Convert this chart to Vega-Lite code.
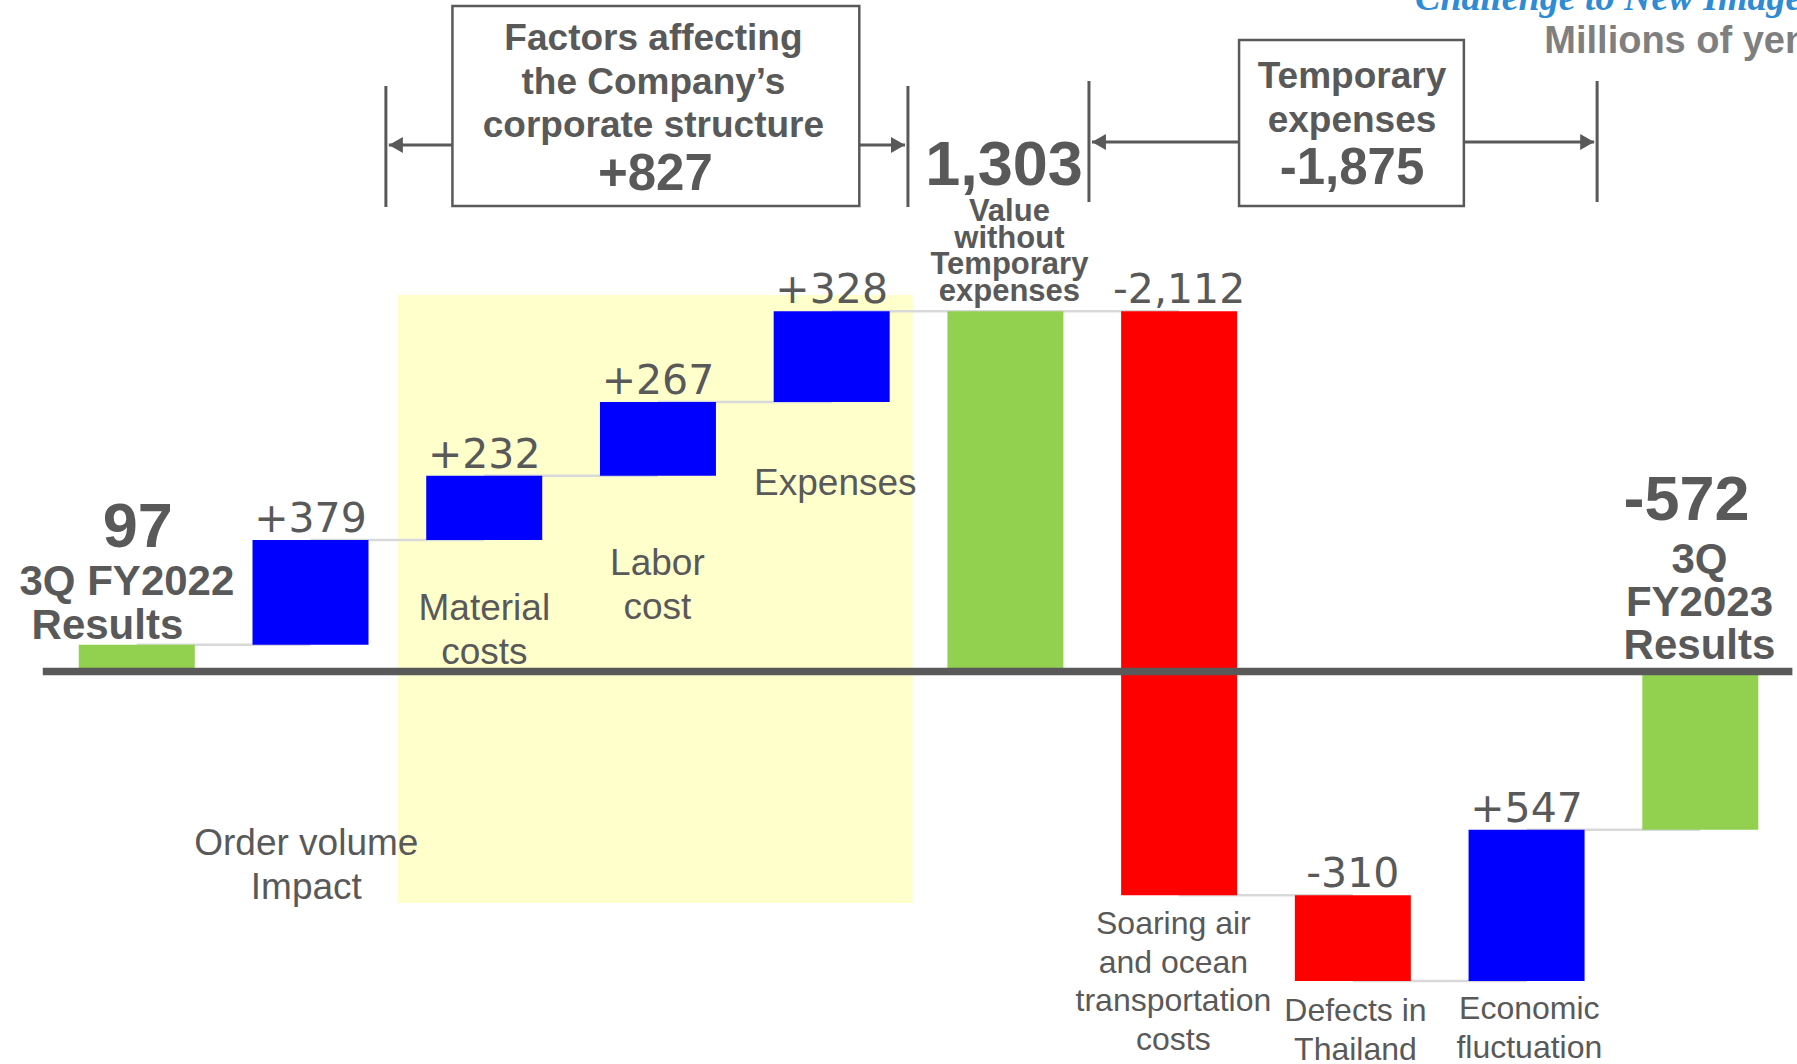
{
  "$schema": "https://vega.github.io/schema/vega-lite/v6.json",
  "width": 1797,
  "height": 1064,
  "autosize": "none",
  "padding": 0,
  "background": "white",
  "config": {"view": {"stroke": null}},
  "datasets": {
    "bars": [
      {"i": 0, "name": "3Q FY2022 Results", "start": 0, "end": 97, "kind": "total", "label": ""},
      {"i": 1, "name": "Order volume Impact", "start": 97, "end": 476, "kind": "up", "label": "+379"},
      {"i": 2, "name": "Material costs", "start": 476, "end": 708, "kind": "up", "label": "+232"},
      {"i": 3, "name": "Labor cost", "start": 708, "end": 975, "kind": "up", "label": "+267"},
      {"i": 4, "name": "Expenses", "start": 975, "end": 1303, "kind": "up", "label": "+328"},
      {"i": 5, "name": "Value without Temporary expenses", "start": 0, "end": 1303, "kind": "total", "label": ""},
      {"i": 6, "name": "Soaring air and ocean transportation costs", "start": 1303, "end": -809, "kind": "down", "label": "-2,112"},
      {"i": 7, "name": "Defects in Thailand", "start": -809, "end": -1119, "kind": "down", "label": "-310"},
      {"i": 8, "name": "Economic fluctuation", "start": -1119, "end": -572, "kind": "up", "label": "+547"},
      {"i": 9, "name": "3Q FY2023 Results", "start": 0, "end": -572, "kind": "total", "label": ""}
    ],
    "connectors": [
      {"from": 0, "to": 1, "level": 97},
      {"from": 1, "to": 2, "level": 476},
      {"from": 2, "to": 3, "level": 708},
      {"from": 3, "to": 4, "level": 975},
      {"from": 4, "to": 5, "level": 1303},
      {"from": 5, "to": 6, "level": 1303},
      {"from": 6, "to": 7, "level": -809},
      {"from": 7, "to": 8, "level": -1119},
      {"from": 8, "to": 9, "level": -572}
    ],
    "zone": [{"x1": 1.5026, "x2": 4.467, "y1": 1361.7, "y2": -837.1}],
    "baseline": [{"x1": -0.541, "x2": 9.53, "y": 0}],
    "brackets": [
      {"x": 1.434, "y1": 2117.5, "y2": 1679.9},
      {"x": 4.439, "y1": 2117.5, "y2": 1679.9},
      {"x": 5.481, "y1": 2135.6, "y2": 1698},
      {"x": 8.406, "y1": 2135.6, "y2": 1698}
    ],
    "boxes": [
      {"x1": 1.817, "x2": 4.159, "y1": 2406.9, "y2": 1683.5},
      {"x1": 6.345, "x2": 7.639, "y1": 2283.9, "y2": 1683.5}
    ],
    "arrows": [
      {"x1": 1.817, "x2": 1.451, "y": 1904, "dir": "left"},
      {"x1": 4.159, "x2": 4.422, "y": 1904, "dir": "right"},
      {"x1": 6.345, "x2": 5.498, "y": 1915, "dir": "left"},
      {"x1": 7.639, "x2": 8.389, "y": 1915, "dir": "right"}
    ],
    "labels": [
      {"g": "num", "text": "97", "x": 0.0057, "y": 451.4},
      {"g": "num", "text": "1,303", "x": 4.992, "y": 1759.5},
      {"g": "num", "text": "-572", "x": 8.921, "y": 547.9},
      {"g": "total", "text": "3Q FY2022", "x": -0.0567, "y": 276.7},
      {"g": "total", "text": "Results", "x": -0.1689, "y": 117.5},
      {"g": "total", "text": "3Q\nFY2023\nResults", "x": 8.995, "y": 356},
      {"g": "value", "text": "Value\nwithout\nTemporary\nexpenses", "x": 5.023, "y": 1629.3},
      {"g": "boxtext", "text": "Factors affecting\nthe Company’s\ncorporate structure", "x": 2.974, "y": 2247.7},
      {"g": "boxtext", "text": "Temporary\nexpenses", "x": 6.995, "y": 2110.3},
      {"g": "boxnum", "text": "+827", "x": 2.985, "y": 1740.5},
      {"g": "boxnum", "text": "-1,875", "x": 6.995, "y": 1763.1},
      {"g": "cat", "text": "Order volume\nImpact", "x": 0.976, "y": -663.7},
      {"g": "cat", "text": "Material\ncosts", "x": 2.0006, "y": 186.3},
      {"g": "cat", "text": "Labor\ncost", "x": 2.997, "y": 349},
      {"g": "cat", "text": "Expenses", "x": 4.021, "y": 638.3},
      {"g": "cat2", "text": "Soaring air\nand ocean\ntransportation\ncosts", "x": 5.967, "y": -949.4},
      {"g": "cat2", "text": "Defects in\nThailand", "x": 7.015, "y": -1264},
      {"g": "cat2", "text": "Economic\nfluctuation", "x": 8.016, "y": -1256.8},
      {"g": "unit", "text": "Millions of yen", "x": 8.102, "y": 2236.9},
      {"g": "slogan", "text": "Challenge to New Image", "x": 7.358, "y": 2392.4}
    ]
  },
  "layer": [
    {
      "data": {"name": "zone"},
      "mark": {"type": "rect", "color": "#ffffcc"},
      "encoding": {
        "x": {"field": "x1", "type": "quantitative", "scale": {"domain": [-0.7585, 9.5278], "nice": false, "zero": false}, "axis": null},
        "x2": {"field": "x2"},
        "y": {"field": "y1", "type": "quantitative", "scale": {"domain": [-1419.5, 2428.6], "nice": false, "zero": false}, "axis": null},
        "y2": {"field": "y2"}
      }
    },
    {
      "data": {"name": "connectors"},
      "mark": {"type": "rule", "color": "#d9d9d9", "strokeWidth": 2.5},
      "encoding": {
        "x": {"field": "from", "type": "quantitative", "scale": {"domain": [-0.7585, 9.5278], "nice": false, "zero": false}, "axis": null},
        "x2": {"field": "to"},
        "y": {"field": "level", "type": "quantitative", "scale": {"domain": [-1419.5, 2428.6], "nice": false, "zero": false}, "axis": null}
      }
    },
    {
      "data": {"name": "bars"},
      "mark": {"type": "bar", "width": 116},
      "encoding": {
        "x": {"field": "i", "type": "quantitative", "scale": {"domain": [-0.7585, 9.5278], "nice": false, "zero": false}, "axis": null},
        "y": {"field": "start", "type": "quantitative", "scale": {"domain": [-1419.5, 2428.6], "nice": false, "zero": false}, "axis": null},
        "y2": {"field": "end"},
        "color": {"field": "kind", "type": "nominal", "scale": {"domain": ["total", "up", "down"], "range": ["#92d050", "#0000ff", "#ff0000"]}, "legend": null}
      }
    },
    {
      "data": {"name": "baseline"},
      "mark": {"type": "rule", "color": "#595959", "strokeWidth": 7.5},
      "encoding": {
        "x": {"field": "x1", "type": "quantitative", "scale": {"domain": [-0.7585, 9.5278], "nice": false, "zero": false}, "axis": null},
        "x2": {"field": "x2"},
        "y": {"field": "y", "type": "quantitative", "scale": {"domain": [-1419.5, 2428.6], "nice": false, "zero": false}, "axis": null}
      }
    },
    {
      "data": {"name": "bars"},
      "transform": [
        {"filter": "datum.kind != 'total'"},
        {"calculate": "max(datum.start, datum.end)", "as": "top"}
      ],
      "mark": {"type": "text", "font": "DejaVu Sans", "fontSize": 41, "color": "#595959", "align": "center", "baseline": "alphabetic", "dy": -8},
      "encoding": {
        "x": {"field": "i", "type": "quantitative", "scale": {"domain": [-0.7585, 9.5278], "nice": false, "zero": false}, "axis": null},
        "y": {"field": "top", "type": "quantitative", "scale": {"domain": [-1419.5, 2428.6], "nice": false, "zero": false}, "axis": null},
        "text": {"field": "label"}
      }
    },
    {
      "data": {"name": "boxes"},
      "mark": {"type": "rect", "fill": "white", "stroke": "#595959", "strokeWidth": 2.5},
      "encoding": {
        "x": {"field": "x1", "type": "quantitative", "scale": {"domain": [-0.7585, 9.5278], "nice": false, "zero": false}, "axis": null},
        "x2": {"field": "x2"},
        "y": {"field": "y1", "type": "quantitative", "scale": {"domain": [-1419.5, 2428.6], "nice": false, "zero": false}, "axis": null},
        "y2": {"field": "y2"}
      }
    },
    {
      "data": {"name": "brackets"},
      "mark": {"type": "rule", "color": "#595959", "strokeWidth": 3},
      "encoding": {
        "x": {"field": "x", "type": "quantitative", "scale": {"domain": [-0.7585, 9.5278], "nice": false, "zero": false}, "axis": null},
        "y": {"field": "y1", "type": "quantitative", "scale": {"domain": [-1419.5, 2428.6], "nice": false, "zero": false}, "axis": null},
        "y2": {"field": "y2"}
      }
    },
    {
      "data": {"name": "arrows"},
      "mark": {"type": "rule", "color": "#595959", "strokeWidth": 3},
      "encoding": {
        "x": {"field": "x1", "type": "quantitative", "scale": {"domain": [-0.7585, 9.5278], "nice": false, "zero": false}, "axis": null},
        "x2": {"field": "x2"},
        "y": {"field": "y", "type": "quantitative", "scale": {"domain": [-1419.5, 2428.6], "nice": false, "zero": false}, "axis": null}
      }
    },
    {
      "data": {"name": "arrows"},
      "mark": {"type": "point", "filled": true, "color": "#595959", "size": 400, "opacity": 1},
      "encoding": {
        "x": {"field": "x2", "type": "quantitative", "scale": {"domain": [-0.7585, 9.5278], "nice": false, "zero": false}, "axis": null},
        "y": {"field": "y", "type": "quantitative", "scale": {"domain": [-1419.5, 2428.6], "nice": false, "zero": false}, "axis": null},
        "shape": {"field": "dir", "type": "nominal", "scale": {"domain": ["left", "right"], "range": ["M0,0L1.4,-0.8L1.4,0.8Z", "M0,0L-1.4,-0.8L-1.4,0.8Z"]}, "legend": null}
      }
    },
    {
      "data": {"name": "labels"},
      "transform": [{"filter": "datum.g == 'num'"}],
      "mark": {"type": "text", "font": "Liberation Sans", "fontWeight": "bold", "fontSize": 63, "color": "#595959", "align": "center", "baseline": "alphabetic"},
      "encoding": {
        "x": {"field": "x", "type": "quantitative", "scale": {"domain": [-0.7585, 9.5278], "nice": false, "zero": false}, "axis": null},
        "y": {"field": "y", "type": "quantitative", "scale": {"domain": [-1419.5, 2428.6], "nice": false, "zero": false}, "axis": null},
        "text": {"field": "text"}
      }
    },
    {
      "data": {"name": "labels"},
      "transform": [{"filter": "datum.g == 'total'"}],
      "mark": {"type": "text", "font": "Liberation Sans", "fontWeight": "bold", "fontSize": 42, "lineHeight": 43, "lineBreak": "\n", "color": "#595959", "align": "center", "baseline": "alphabetic"},
      "encoding": {
        "x": {"field": "x", "type": "quantitative", "scale": {"domain": [-0.7585, 9.5278], "nice": false, "zero": false}, "axis": null},
        "y": {"field": "y", "type": "quantitative", "scale": {"domain": [-1419.5, 2428.6], "nice": false, "zero": false}, "axis": null},
        "text": {"field": "text"}
      }
    },
    {
      "data": {"name": "labels"},
      "transform": [{"filter": "datum.g == 'value'"}],
      "mark": {"type": "text", "font": "Liberation Sans", "fontWeight": "bold", "fontSize": 31, "lineHeight": 26.7, "lineBreak": "\n", "color": "#595959", "align": "center", "baseline": "alphabetic"},
      "encoding": {
        "x": {"field": "x", "type": "quantitative", "scale": {"domain": [-0.7585, 9.5278], "nice": false, "zero": false}, "axis": null},
        "y": {"field": "y", "type": "quantitative", "scale": {"domain": [-1419.5, 2428.6], "nice": false, "zero": false}, "axis": null},
        "text": {"field": "text"}
      }
    },
    {
      "data": {"name": "labels"},
      "transform": [{"filter": "datum.g == 'boxtext'"}],
      "mark": {"type": "text", "font": "Liberation Sans", "fontWeight": "bold", "fontSize": 37, "lineHeight": 43.5, "lineBreak": "\n", "color": "#595959", "align": "center", "baseline": "alphabetic"},
      "encoding": {
        "x": {"field": "x", "type": "quantitative", "scale": {"domain": [-0.7585, 9.5278], "nice": false, "zero": false}, "axis": null},
        "y": {"field": "y", "type": "quantitative", "scale": {"domain": [-1419.5, 2428.6], "nice": false, "zero": false}, "axis": null},
        "text": {"field": "text"}
      }
    },
    {
      "data": {"name": "labels"},
      "transform": [{"filter": "datum.g == 'boxnum'"}],
      "mark": {"type": "text", "font": "Liberation Sans", "fontWeight": "bold", "fontSize": 51, "color": "#595959", "align": "center", "baseline": "alphabetic"},
      "encoding": {
        "x": {"field": "x", "type": "quantitative", "scale": {"domain": [-0.7585, 9.5278], "nice": false, "zero": false}, "axis": null},
        "y": {"field": "y", "type": "quantitative", "scale": {"domain": [-1419.5, 2428.6], "nice": false, "zero": false}, "axis": null},
        "text": {"field": "text"}
      }
    },
    {
      "data": {"name": "labels"},
      "transform": [{"filter": "datum.g == 'cat'"}],
      "mark": {"type": "text", "font": "Liberation Sans", "fontSize": 37, "lineHeight": 44, "lineBreak": "\n", "color": "#595959", "align": "center", "baseline": "alphabetic"},
      "encoding": {
        "x": {"field": "x", "type": "quantitative", "scale": {"domain": [-0.7585, 9.5278], "nice": false, "zero": false}, "axis": null},
        "y": {"field": "y", "type": "quantitative", "scale": {"domain": [-1419.5, 2428.6], "nice": false, "zero": false}, "axis": null},
        "text": {"field": "text"}
      }
    },
    {
      "data": {"name": "labels"},
      "transform": [{"filter": "datum.g == 'cat2'"}],
      "mark": {"type": "text", "font": "Liberation Sans", "fontSize": 32, "lineHeight": 38.5, "lineBreak": "\n", "color": "#595959", "align": "center", "baseline": "alphabetic"},
      "encoding": {
        "x": {"field": "x", "type": "quantitative", "scale": {"domain": [-0.7585, 9.5278], "nice": false, "zero": false}, "axis": null},
        "y": {"field": "y", "type": "quantitative", "scale": {"domain": [-1419.5, 2428.6], "nice": false, "zero": false}, "axis": null},
        "text": {"field": "text"}
      }
    },
    {
      "data": {"name": "labels"},
      "transform": [{"filter": "datum.g == 'unit'"}],
      "mark": {"type": "text", "font": "Liberation Sans", "fontWeight": "bold", "fontSize": 38, "color": "#7f7f7f", "align": "left", "baseline": "alphabetic"},
      "encoding": {
        "x": {"field": "x", "type": "quantitative", "scale": {"domain": [-0.7585, 9.5278], "nice": false, "zero": false}, "axis": null},
        "y": {"field": "y", "type": "quantitative", "scale": {"domain": [-1419.5, 2428.6], "nice": false, "zero": false}, "axis": null},
        "text": {"field": "text"}
      }
    },
    {
      "data": {"name": "labels"},
      "transform": [{"filter": "datum.g == 'slogan'"}],
      "mark": {"type": "text", "font": "Liberation Serif", "fontWeight": "bold", "fontStyle": "italic", "fontSize": 38, "color": "#2e8bd4", "align": "left", "baseline": "alphabetic"},
      "encoding": {
        "x": {"field": "x", "type": "quantitative", "scale": {"domain": [-0.7585, 9.5278], "nice": false, "zero": false}, "axis": null},
        "y": {"field": "y", "type": "quantitative", "scale": {"domain": [-1419.5, 2428.6], "nice": false, "zero": false}, "axis": null},
        "text": {"field": "text"}
      }
    }
  ]
}
